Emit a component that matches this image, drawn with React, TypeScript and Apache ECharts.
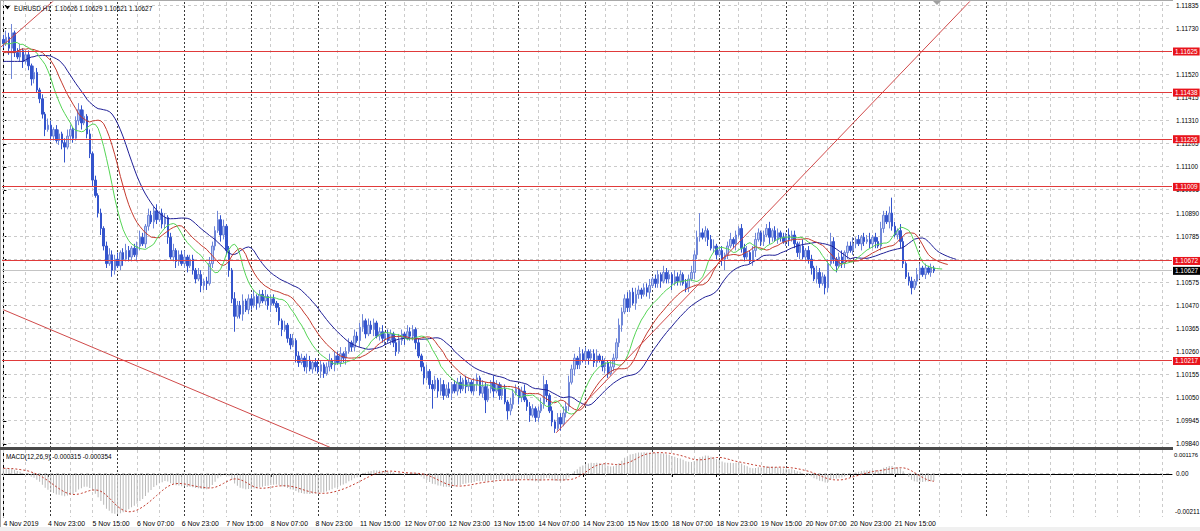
import React, { useEffect, useRef } from 'react';
import * as echarts from 'echarts';

// ---------- data (EURUSD, H1) ----------
const FIRST_OPEN = 1.1168;
const CLOSES = [
  1.1166, 1.1169, 1.1164, 1.1171, 1.1162, 1.1160, 1.1163, 1.1158, 1.1161, 1.1156,
  1.1150, 1.1153, 1.1145, 1.1141, 1.1134, 1.1127, 1.1129, 1.1124, 1.1127, 1.1122,
  1.1125, 1.1121, 1.1119, 1.1124, 1.1127, 1.1123, 1.1131, 1.1136, 1.1130, 1.1133,
  1.1125, 1.1116, 1.1104, 1.1097, 1.1089, 1.1082, 1.1074, 1.1066, 1.1070, 1.1063,
  1.1068, 1.1065, 1.1071, 1.1068, 1.1072, 1.1069, 1.1073, 1.1070, 1.1074, 1.1078,
  1.1075, 1.1083, 1.1088, 1.1085, 1.1090, 1.1086, 1.1089, 1.1084, 1.1087, 1.1078,
  1.1069, 1.1072, 1.1067, 1.1070, 1.1066, 1.1069, 1.1065, 1.1068, 1.1063, 1.1059,
  1.1061, 1.1056, 1.1058, 1.1057, 1.1066, 1.1074, 1.1081, 1.1086, 1.1079, 1.1083,
  1.1072, 1.1063, 1.1050, 1.1042, 1.1047, 1.1043, 1.1049, 1.1045, 1.1050, 1.1047,
  1.1051, 1.1048, 1.1052, 1.1049, 1.1051, 1.1047, 1.1050, 1.1048, 1.1046, 1.1040,
  1.1036, 1.1038, 1.1032, 1.1029, 1.1031, 1.1024, 1.1021, 1.1023, 1.1019, 1.1022,
  1.1018, 1.1021, 1.1019, 1.1017, 1.1020, 1.1016, 1.1019, 1.1022, 1.1020, 1.1024,
  1.1021, 1.1025, 1.1023, 1.1026, 1.1030, 1.1028, 1.1033, 1.1031, 1.1037, 1.1040,
  1.1034, 1.1038, 1.1036, 1.1039, 1.1033, 1.1035, 1.1032, 1.1034, 1.1031, 1.1034,
  1.1030, 1.1026, 1.1031, 1.1034, 1.1032, 1.1035, 1.1033, 1.1036, 1.1030, 1.1024,
  1.1019, 1.1014, 1.1017, 1.1011, 1.1009, 1.1013, 1.1008, 1.1011, 1.1006, 1.1009,
  1.1007, 1.1011, 1.1008, 1.1012, 1.1009, 1.1013, 1.1010, 1.1012, 1.1008, 1.1011,
  1.1014, 1.1007, 1.1010, 1.1004, 1.1009, 1.1012, 1.1008, 1.1011, 1.1006, 1.1009,
  1.1003, 1.0999, 1.1002, 1.1007, 1.1009, 1.1005, 1.1008, 1.1004, 1.1001, 1.0997,
  1.1000, 1.0996, 1.0999, 1.1002, 1.1011, 1.1006, 1.0999, 1.0994, 1.0991, 1.0996,
  1.0993, 1.0998, 1.1001, 1.1012, 1.1018, 1.1023, 1.1020, 1.1025, 1.1022, 1.1026,
  1.1023, 1.1025, 1.1021, 1.1024, 1.1022, 1.1019, 1.1021, 1.1016, 1.1019, 1.1023,
  1.1030, 1.1038, 1.1044, 1.1050, 1.1046, 1.1053, 1.1048, 1.1052, 1.1054, 1.1052,
  1.1055, 1.1053, 1.1056, 1.1059, 1.1057, 1.1061, 1.1058, 1.1062, 1.1059, 1.1061,
  1.1057, 1.1060, 1.1058, 1.1061, 1.1057, 1.1055, 1.1059, 1.1062, 1.1070, 1.1078,
  1.1080, 1.1078, 1.1081, 1.1077, 1.1073, 1.1074, 1.1070, 1.1072, 1.1068, 1.1070,
  1.1074, 1.1077, 1.1075, 1.1079, 1.1082, 1.1073, 1.1069, 1.1071, 1.1067, 1.1072,
  1.1077, 1.1080, 1.1076, 1.1079, 1.1082, 1.1078, 1.1081, 1.1077, 1.1080, 1.1078,
  1.1076, 1.1079, 1.1077, 1.1079, 1.1075, 1.1071, 1.1074, 1.1069, 1.1072, 1.1068,
  1.1064, 1.1059, 1.1062, 1.1057, 1.1060, 1.1055, 1.1066, 1.1076, 1.1068, 1.1065,
  1.1069, 1.1066, 1.1071, 1.1074, 1.1072, 1.1075, 1.1077, 1.1075, 1.1078, 1.1076,
  1.1077, 1.1075, 1.1078, 1.1076, 1.1074, 1.1082, 1.1088, 1.1085, 1.1089, 1.1083,
  1.1079, 1.1081, 1.1076, 1.1066, 1.1060, 1.1058, 1.1055, 1.1058, 1.1061, 1.1064,
  1.1061, 1.1064, 1.1062, 1.1064, 1.10627,
];
// upper / lower shadow length of each candle, in pips
const WICK_UP = [
  2,3,2,4,1,2,3,1,2,2,1,3,2,1,2,1,3,2,1,2,
  2,1,2,3,2,1,2,3,2,3,1,2,1,2,1,2,1,2,3,2,
  2,3,1,2,3,2,1,2,2,3,2,1,3,2,2,3,1,2,2,1,
  2,3,1,2,2,3,1,2,2,1,3,2,1,2,3,2,2,4,2,3,
  1,2,1,3,2,2,3,1,2,2,3,1,2,2,3,1,2,2,1,2,
  1,2,1,2,3,1,2,2,1,3,2,1,2,3,2,1,2,3,1,2,
  2,3,1,2,2,1,3,2,2,3,1,3,2,2,1,2,3,1,2,2,
  1,2,3,2,1,3,2,2,1,2,1,2,3,1,2,2,1,3,2,2,
  3,1,2,2,3,1,2,2,1,3,2,1,3,2,2,1,3,2,1,2,
  2,1,3,2,2,1,2,3,1,2,2,1,2,3,4,2,1,2,1,2,
  2,3,2,3,2,2,1,3,2,2,1,2,2,3,1,2,2,1,3,2,
  2,3,2,2,3,1,2,3,2,1,2,2,3,1,2,2,1,3,2,2,
  1,3,2,2,1,2,2,3,2,3,9,2,2,1,2,3,1,2,2,1,
  2,3,1,2,1,2,2,3,1,2,3,2,1,2,2,3,1,2,2,1,
  2,1,3,2,2,1,2,3,1,2,2,1,3,2,2,1,2,4,2,1,
  2,3,1,2,2,3,1,2,1,2,2,3,1,2,2,3,2,2,3,7,
  2,1,3,2,1,2,2,1,3,2,1,2,1,2,1,
];
const WICK_DN = [
  2,1,3,14,2,1,2,3,1,2,3,2,1,2,2,3,1,2,2,1,
  2,3,7,1,2,2,1,2,3,1,2,2,3,1,2,3,2,2,1,3,
  2,1,2,3,1,2,2,1,3,2,1,2,2,1,3,2,1,2,2,3,
  1,2,3,2,1,2,3,1,2,2,1,3,2,3,1,2,2,1,3,2,
  2,3,2,7,1,2,3,1,2,2,1,3,2,1,2,2,3,1,2,2,
  3,1,2,2,1,3,2,1,2,3,1,2,2,1,3,2,1,2,2,3,
  1,2,2,3,1,2,2,1,3,2,2,1,2,3,1,2,2,3,1,2,
  2,2,1,2,3,1,2,2,3,1,2,3,1,2,9,1,3,2,2,1,
  2,3,1,2,2,1,3,2,1,2,3,1,2,6,1,2,3,1,2,2,
  1,4,2,2,1,3,2,1,2,3,1,2,2,1,2,3,1,2,2,1,
  3,1,2,2,1,3,2,2,1,2,3,1,2,2,1,2,3,2,1,2,
  1,2,3,1,2,2,1,3,2,2,1,2,3,1,2,2,3,1,2,2,
  3,1,2,2,1,2,2,1,3,2,2,1,2,3,1,2,2,1,3,5,
  2,1,2,3,1,2,2,1,1,2,3,1,2,2,1,3,2,1,2,2,
  1,2,3,1,2,2,3,1,2,2,3,1,2,2,1,3,2,1,2,3,
  1,2,2,3,1,2,2,1,3,2,1,2,2,3,1,2,2,1,3,2,
  1,2,3,2,1,2,3,1,2,2,1,2,1,2,1,
];
const PIP = 0.0001;

const SLOT_COUNT = 420; // bars that fit across the chart, incl. empty future space
const X_LABELS = [
  '4 Nov 2019', '4 Nov 23:00', '5 Nov 15:00', '6 Nov 07:00', '6 Nov 23:00', '7 Nov 15:00',
  '8 Nov 07:00', '8 Nov 23:00', '11 Nov 15:00', '12 Nov 07:00', '12 Nov 23:00', '13 Nov 15:00',
  '14 Nov 07:00', '14 Nov 23:00', '15 Nov 15:00', '18 Nov 07:00', '18 Nov 23:00', '19 Nov 15:00',
  '20 Nov 07:00', '20 Nov 23:00', '21 Nov 15:00',
];
const LABEL_EVERY = 16;
const GRID_EVERY = 8;
const DAY_STARTS = [17, 41, 65, 89, 113, 137, 161, 185, 209, 233, 257, 281, 305, 329, 353];

const PRICE_TICKS = [
  1.11835, 1.1173, 1.11625, 1.1152, 1.11415, 1.1131, 1.11205, 1.111, 1.10995, 1.1089,
  1.10785, 1.1068, 1.10575, 1.1047, 1.10365, 1.1026, 1.10155, 1.1005, 1.09945, 1.0984,
];
const Y_MIN = 1.098256;
const Y_MAX = 1.118502;
const LEVELS = [1.11625, 1.11438, 1.11226, 1.11009, 1.10672, 1.10217];
const BID = 1.10627;
const HEADER_SYMBOL = 'EURUSD,H1';
const HEADER_OHLC = ['1.10626', '1.10629', '1.10621', '1.10627'];

const TREND_DOWN = [[0, 1.1045], [118, 1.0982]];
const TREND_UP = [[198.4, 1.0989], [352, 1.1192]];
const TREND_TOP = [[-1, 1.11644], [20, 1.11878]];

// Alligator (SMMA of median price): period, forward shift, value at the left edge
const JAW = [13, 8, 1.1158];
const TEETH = [8, 5, 1.1162];
const LIPS = [5, 3, 1.1166];

// MACD(12,26,9)
const MACD_FAST = 12;
const MACD_SLOW = 26;
const MACD_SIGNAL = 9;
const EMA_FAST_SEED = 1.1166;
const EMA_SLOW_SEED = 1.1163;
const MACD_MAX = 0.001176;
const MACD_MIN = -0.00211;
const MACD_TICK_LABELS = ['0.001176', '0.00', '-0.00211'];
const MACD_HEADER = 'MACD(12,26,9) -0.000315 -0.000354';

// ---------- derived series ----------
const N = CLOSES.length;
const OPENS = CLOSES.map((c, i) => (i === 0 ? FIRST_OPEN : CLOSES[i - 1]));
const HIGHS = CLOSES.map((c, i) => Math.max(OPENS[i], c) + (WICK_UP[i] ?? 2) * PIP);
const LOWS = CLOSES.map((c, i) => Math.min(OPENS[i], c) - (WICK_DN[i] ?? 2) * PIP);
const MEDIANS = HIGHS.map((h, i) => (h + LOWS[i]) / 2);
const CATEGORIES = Array.from({ length: SLOT_COUNT }, (_, i) => String(i));

function alligatorLine(cfg: number[]) {
  const [period, shift, seed] = cfg;
  let v = seed;
  const sm = MEDIANS.map((m) => (v = (v * (period - 1) + m) / period));
  const out: (number | null)[] = new Array(SLOT_COUNT).fill(null);
  for (let j = 0; j < N + shift && j < SLOT_COUNT; j++) {
    out[j] = j - shift < 0 ? seed : sm[j - shift];
  }
  return out;
}

function ema(period: number, seed: number) {
  const k = 2 / (period + 1);
  let v = seed;
  return CLOSES.map((c) => (v = v + k * (c - v)));
}
const FAST = ema(MACD_FAST, EMA_FAST_SEED);
const SLOW = ema(MACD_SLOW, EMA_SLOW_SEED);
const MACD = FAST.map((f, i) => f - SLOW[i]);
const SIGNAL = MACD.map((_, i) => {
  const from = Math.max(0, i - MACD_SIGNAL + 1);
  const part = MACD.slice(from, i + 1);
  return part.reduce((a, b) => a + b, 0) / part.length;
});

const FONT = 'Liberation Sans, Arial, sans-serif';
const FS = 6.4;

export default function App() {
  const ref = useRef<HTMLDivElement>(null);

  useEffect(() => {
    document.body.style.margin = '0';
    if (!ref.current) return;
    const chart = echarts.init(ref.current, null, { renderer: 'svg' });

    const labelShown = (idx: number) => idx % LABEL_EVERY === 0 && idx / LABEL_EVERY < X_LABELS.length;

    const option: any = {
      animation: false,
      backgroundColor: '#ffffff',
      textStyle: { fontFamily: FONT },
      grid: [
        { left: 2, top: 2, width: 1170, height: 445, outerBoundsMode: 'none' },
        { left: 2, top: 450, width: 1170, height: 67, outerBoundsMode: 'none' },
      ],
      xAxis: [
        { type: 'category', gridIndex: 0, data: CATEGORIES, boundaryGap: true, show: false },
        {
          type: 'category', gridIndex: 1, data: CATEGORIES, boundaryGap: true,
          axisLine: { show: true, lineStyle: { color: '#000', width: 1 } },
          axisTick: { show: true, interval: (i: number) => labelShown(i), alignWithLabel: true, length: 3, lineStyle: { color: '#000' } },
          axisLabel: {
            show: true, interval: (i: number) => labelShown(i), align: 'left', margin: 3,
            fontSize: 6.9, color: '#000', fontFamily: FONT,
            formatter: (_v: string, idx: number) => X_LABELS[idx / LABEL_EVERY] ?? '',
          },
          splitLine: { show: false },
        },
        { type: 'value', gridIndex: 0, min: -0.5, max: SLOT_COUNT - 0.5, show: false },
        { type: 'value', gridIndex: 1, min: -0.5, max: SLOT_COUNT - 0.5, show: false },
      ],
      yAxis: [
        {
          type: 'value', gridIndex: 0, position: 'right', min: Y_MIN, max: Y_MAX, scale: true,
          axisLine: { show: true, lineStyle: { color: '#000', width: 1 } },
          axisTick: { show: true, customValues: PRICE_TICKS, length: 3, lineStyle: { color: '#000' } },
          axisLabel: {
            show: true, customValues: PRICE_TICKS, margin: 4, fontSize: FS, color: '#000', fontFamily: FONT,
            formatter: (v: number) => v.toFixed(5),
          },
          splitLine: { show: false },
        },
        {
          type: 'value', gridIndex: 1, position: 'right', min: MACD_MIN, max: MACD_MAX,
          axisLine: { show: true, lineStyle: { color: '#000', width: 1 } },
          axisTick: { show: true, customValues: [0], length: 3, lineStyle: { color: '#000' } },
          axisLabel: {
            show: true, customValues: [0], margin: 4, fontSize: FS, color: '#000', fontFamily: FONT,
            formatter: () => MACD_TICK_LABELS[1],
          },
          splitLine: { show: false },
        },
      ],
      series: [
        {
          type: 'candlestick', xAxisIndex: 0, yAxisIndex: 0, z: 3, barWidth: 2,
          data: CLOSES.map((c, i) => [OPENS[i], c, LOWS[i], HIGHS[i]]),
          itemStyle: {
            color: '#bccaf0', color0: '#3454cc',
            borderColor: '#6f86d8', borderColor0: '#3454cc', borderWidth: 1,
          },
        },
        {
          type: 'line', xAxisIndex: 0, yAxisIndex: 0, z: 4, showSymbol: false, silent: true,
          data: alligatorLine(JAW), lineStyle: { color: '#1f1f96', width: 1 },
        },
        {
          type: 'line', xAxisIndex: 0, yAxisIndex: 0, z: 4, showSymbol: false, silent: true,
          data: alligatorLine(TEETH), lineStyle: { color: '#c43a2e', width: 1 },
        },
        {
          type: 'line', xAxisIndex: 0, yAxisIndex: 0, z: 4, showSymbol: false, silent: true,
          data: alligatorLine(LIPS), lineStyle: { color: '#55d455', width: 1 },
        },
        ...[TREND_DOWN, TREND_UP, TREND_TOP].map((t) => ({
          type: 'line', xAxisIndex: 2, yAxisIndex: 0, z: 5, showSymbol: false, silent: true, clip: true,
          data: t, lineStyle: { color: '#d04a4a', width: 1 },
        })),
        {
          type: 'bar', xAxisIndex: 1, yAxisIndex: 1, z: 3, barWidth: 1, silent: true,
          data: MACD, itemStyle: { color: '#b9b9b9' },
        },
        {
          type: 'line', xAxisIndex: 1, yAxisIndex: 1, z: 4, showSymbol: false, silent: true,
          data: SIGNAL, lineStyle: { color: '#c0392b', width: 1, type: [2, 2] },
        },
      ],
    };

    chart.setOption(option);

    // grid lines, period separators and price levels, placed through the chart's own scales
    const xPix = (i: number) => chart.convertToPixel({ xAxisIndex: 2 } as any, i) as unknown as number;
    const yPix = (v: number) => chart.convertToPixel({ yAxisIndex: 0 } as any, v) as unknown as number;
    const yMacd = (v: number) => chart.convertToPixel({ yAxisIndex: 1 } as any, v) as unknown as number;
    const crisp = (p: number) => Math.round(p - 0.5) + 0.5;
    const L = xPix(-0.5);
    const R = xPix(SLOT_COUNT - 0.5);
    const T0 = yPix(Y_MAX);
    const B0 = yPix(Y_MIN);
    const T1 = yMacd(MACD_MAX);
    const B1 = yMacd(MACD_MIN);

    const gridStroke = { stroke: '#cbcbcb', lineWidth: 1, lineDash: [3, 3] };
    const sepStroke = { stroke: '#3a3a3a', lineWidth: 1, lineDash: [2, 2] };
    const g: any[] = [];
    const hLine = (y: number, style: any, z: number) =>
      g.push({ type: 'line', silent: true, z, shape: { x1: L, y1: y, x2: R, y2: y }, style });
    const vLine = (x: number, y1: number, y2: number, style: any, z: number) =>
      g.push({ type: 'line', silent: true, z, shape: { x1: x, y1, x2: x, y2 }, style });

    PRICE_TICKS.forEach((v) => hLine(crisp(yPix(v)), gridStroke, 1));
    hLine(crisp(yMacd(0)), gridStroke, 1);
    for (let i = 0; i < SLOT_COUNT; i += GRID_EVERY) {
      if (DAY_STARTS.some((d) => Math.abs(d - i) <= 1)) continue;
      const x = crisp(xPix(i));
      vLine(x, T0, B0, gridStroke, 1);
      vLine(x, T1, B1, gridStroke, 1);
    }
    DAY_STARTS.forEach((d) => {
      const x = crisp(xPix(d));
      vLine(x, T0, B0, sepStroke, 1);
      vLine(x, T1, B1, sepStroke, 1);
    });

    const levelLabel = (v: number, bg: string) => ({
      type: 'text', silent: true, z: 30, x: R + 1, y: yPix(v),
      style: {
        text: v.toFixed(5), fill: '#fff', backgroundColor: bg, padding: [1, 2, 1, 2],
        fontSize: FS, fontFamily: FONT, verticalAlign: 'middle', align: 'left',
      },
    });
    hLine(crisp(yPix(BID)), { stroke: '#c4c4c4', lineWidth: 1 }, 2);
    g.push(levelLabel(BID, '#000'));
    LEVELS.forEach((v) => {
      hLine(crisp(yPix(v)), { stroke: '#e03a3a', lineWidth: 1 }, 20);
      g.push(levelLabel(v, '#e8141c'));
    });

    const decor: any[] = [
      { type: 'rect', silent: true, z: 40, shape: { x: 0, y: 527, width: 1200, height: 4 }, style: { fill: '#f0f0f0' } },
      { type: 'rect', silent: true, z: 40, shape: { x: 0, y: 0, width: 1, height: 527 }, style: { fill: '#a8a8a8' } },
      { type: 'rect', silent: true, z: 40, shape: { x: 0, y: 0, width: R + 1, height: 1 }, style: { fill: '#a8a8a8' } },
      { type: 'rect', silent: true, z: 40, shape: { x: 0, y: B0, width: R + 1, height: T1 - B0 }, style: { fill: '#4a4a4a' } },
      { type: 'polygon', silent: true, z: 40, shape: { points: [[933, 1], [941, 1], [937, 5]] }, style: { fill: '#a0a0a0' } },
      { type: 'polygon', silent: true, z: 40, shape: { points: [[5, 6], [10, 6], [7.5, 9.5]] }, style: { fill: '#000' } },
      {
        type: 'text', silent: true, z: 40, x: 14, y: 8,
        style: { text: `${HEADER_SYMBOL}  ${HEADER_OHLC.join(' ')}`, fill: '#000', fontSize: FS, fontFamily: FONT, verticalAlign: 'middle' },
      },
      {
        type: 'text', silent: true, z: 40, x: 6, y: T1 + 6,
        style: { text: MACD_HEADER, fill: '#000', fontSize: FS, fontFamily: FONT, verticalAlign: 'middle' },
      },
      {
        type: 'text', silent: true, z: 40, x: R + 2, y: T1 + 5,
        style: { text: MACD_TICK_LABELS[0], fill: '#000', fontSize: 5.9, fontFamily: FONT, verticalAlign: 'middle' },
      },
      {
        type: 'text', silent: true, z: 40, x: R + 3, y: B1 - 6,
        style: { text: MACD_TICK_LABELS[2], fill: '#000', fontSize: FS, fontFamily: FONT, verticalAlign: 'middle' },
      },
    ];

    chart.setOption({ graphic: [...g, ...decor] });
    return () => chart.dispose();
  }, []);

  return <div ref={ref} style={{ width: 1200, height: 531 }} />;
}
